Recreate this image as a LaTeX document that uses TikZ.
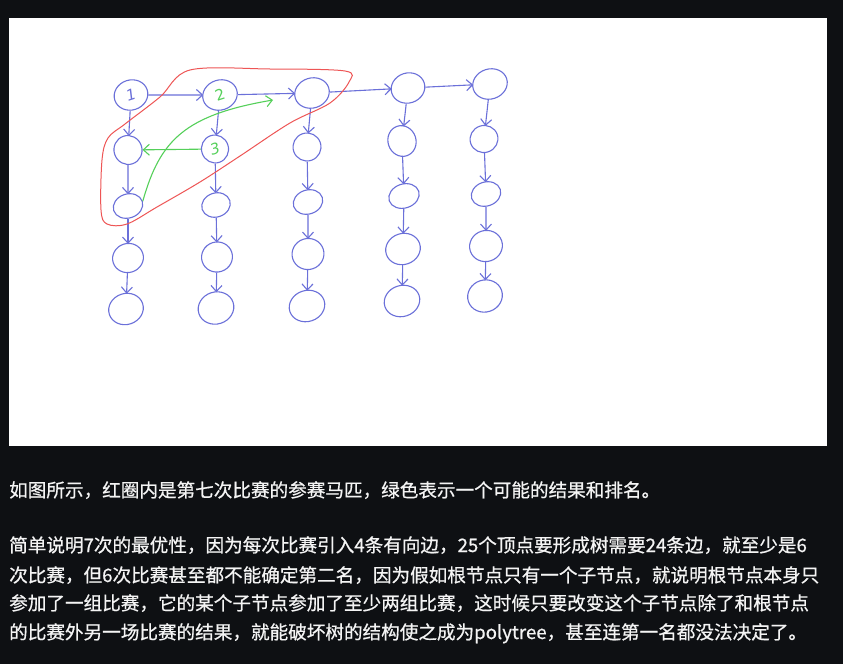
\documentclass[tikz,border=0pt]{standalone}
\usepackage{fontspec}
\newfontfamily\cjk[FakeBold=0.7]{Noto Sans CJK SC}
\newfontfamily\lbl{DejaVu Sans}
\usetikzlibrary{shapes.geometric,arrows.meta}
\definecolor{bgc}{HTML}{0E1013}
\definecolor{bl}{HTML}{6B70D9}
\definecolor{rd}{HTML}{EE5555}
\definecolor{gr}{HTML}{55D05A}
\definecolor{txt}{HTML}{F4F4F4}
\tikzset{
  nd/.style={ellipse, draw=bl, line width=1.1pt, inner sep=0pt, rotate=18},
  arr/.style={draw=bl, line width=1.1pt, -{Straight Barb[length=6pt,width=11pt]}, shorten >=-1pt},
  garr/.style={draw=gr, line width=1.1pt, -{Straight Barb[length=6pt,width=11pt]}},
  lab/.style={font=\lbl\fontsize{15pt}{15pt}\selectfont},
  para/.style={anchor=base west, inner sep=0pt, text=txt, font=\cjk\fontsize{18.6pt}{22pt}\selectfont}
}
\begin{document}
\begin{tikzpicture}[x=1pt,y=-1pt]
\fill[bgc] (0,0) rectangle (843,664);
\fill[white] (9,18) rectangle (827,446);
\useasboundingbox (0,0) rectangle (843,664);

% column 1
\node[nd, minimum width=34pt, minimum height=30pt, lab, text=bl] (a1) at (131,95) {\itshape 1};
\node[nd, minimum width=28pt, minimum height=29pt] (a2) at (128,150) {};
\node[nd, minimum width=30pt, minimum height=24pt] (a3) at (128,206) {};
\node[nd, minimum width=31pt, minimum height=29pt] (a4) at (128,258) {};
\node[nd, minimum width=35pt, minimum height=31pt] (a5) at (126,309) {};
% column 2
\node[nd, minimum width=35pt, minimum height=30pt, lab, text=gr] (b1) at (220,95) {2};
\node[nd, minimum width=27pt, minimum height=28pt, lab, text=gr] (b2) at (215,149) {\itshape 3};
\node[nd, minimum width=29pt, minimum height=24pt] (b3) at (216,205) {};
\node[nd, minimum width=31pt, minimum height=30pt] (b4) at (217,257) {};
\node[nd, minimum width=36pt, minimum height=32pt] (b5) at (216,308) {};
% column 3
\node[nd, minimum width=35pt, minimum height=30pt] (c1) at (312,93) {};
\node[nd, minimum width=28pt, minimum height=28pt] (c2) at (307,147) {};
\node[nd, minimum width=30pt, minimum height=24pt] (c3) at (308,202) {};
\node[nd, minimum width=32pt, minimum height=31pt] (c4) at (308,254) {};
\node[nd, minimum width=36pt, minimum height=31pt] (c5) at (307,306) {};
% column 4
\node[nd, minimum width=34pt, minimum height=30pt] (d1) at (408,88) {};
\node[nd, minimum width=28pt, minimum height=31pt] (d2) at (402,141) {};
\node[nd, minimum width=31pt, minimum height=24pt] (d3) at (404,196) {};
\node[nd, minimum width=35pt, minimum height=31pt] (d4) at (403,249) {};
\node[nd, minimum width=36pt, minimum height=31pt] (d5) at (402,301) {};
% column 5
\node[nd, minimum width=35pt, minimum height=30pt] (e1) at (490,84) {};
\node[nd, minimum width=28pt, minimum height=27pt] (e2) at (484,139) {};
\node[nd, minimum width=30pt, minimum height=24pt] (e3) at (486,194) {};
\node[nd, minimum width=33pt, minimum height=31pt] (e4) at (486,246) {};
\node[nd, minimum width=35pt, minimum height=32pt] (e5) at (485,296) {};

% vertical arrows
\foreach \c in {a,b,c,d,e}{
  \draw[arr] (\c1) -- (\c2);
  \draw[arr] (\c2) -- (\c3);
  \draw[arr] (\c3) -- (\c4);
  \draw[arr] (\c4) -- (\c5);
}
% horizontal arrows
\draw[arr] (a1) -- (b1);
\draw[arr] (b1) -- (c1);
\draw[arr] (c1) -- (d1);
\draw[arr] (d1) -- (e1);

% red loop
\draw[rd, line width=1pt] plot[smooth cycle, tension=0.55] coordinates {
  (190,70) (270,69) (345,71) (349,82) (330,103) (290,123) (240,156)
  (200,182) (157,207) (127,224) (107,224) (101,210) (102,160) (108,138)
  (125,124) (160,97)};

% green arrows
\coordinate (gtip) at (273,100);
\draw[garr] (b2) -- (a2);
\draw[garr] (a3.east) .. controls (160,140) and (185,115) .. (gtip);

% text
\node[para] (t1) at (9,497) {如图所示，红圈内是第七次比赛的参赛马匹，绿色表示一个可能的结果和排名。};
\node[para] (t2) at (9,552) {简单说明7次的最优性，因为每次比赛引入4条有向边，25个顶点要形成树需要24条边，就至少是6};
\node[para] (t3) at (9,582) {次比赛，但6次比赛甚至都不能确定第二名，因为假如根节点只有一个子节点，就说明根节点本身只};
\node[para] (t4) at (9,610) {参加了一组比赛，它的某个子节点参加了至少两组比赛，这时候只要改变这个子节点除了和根节点};
\node[para] (t5) at (9,639) {的比赛外另一场比赛的结果，就能破坏树的结构使之成为polytree，甚至连第一名都没法决定了。};
\end{tikzpicture}
\end{document}
